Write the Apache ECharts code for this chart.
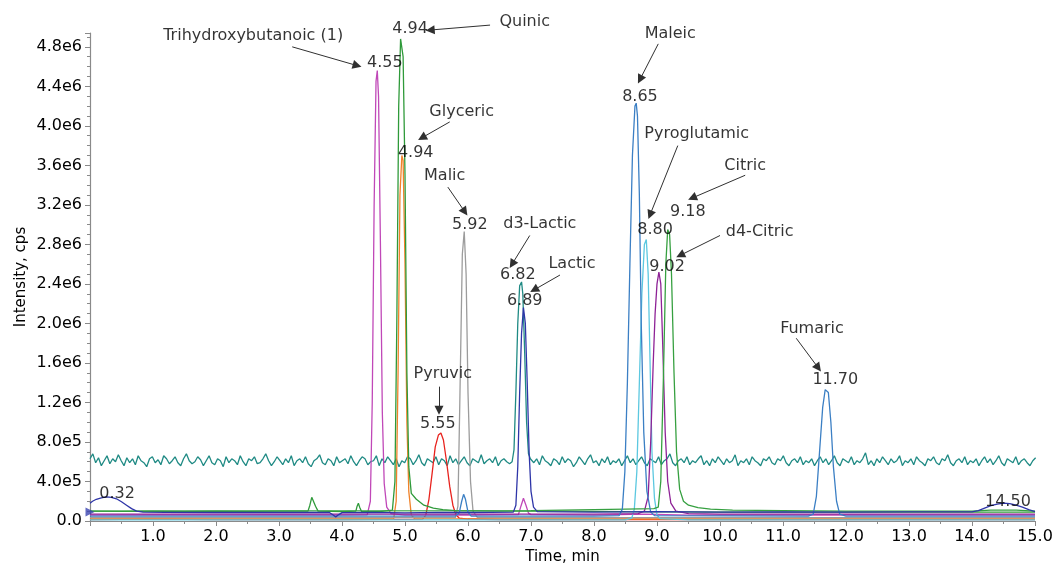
<!DOCTYPE html>
<html>
<head>
<meta charset="utf-8">
<script src="https://cdn.jsdelivr.net/npm/echarts@6/dist/echarts.min.js"></script>
<style>
html,body{margin:0;padding:0;background:#fff;}
#chart{width:1057px;height:563px;}
</style>
</head>
<body>
<div id="chart"></div>
<script>
// ---------------- DATA ----------------
// x: retention time (min), y: intensity (cps)
var xTicks = [1,2,3,4,5,6,7,8,9,10,11,12,13,14,15];
var yTicks = [0,4e5,8e5,1.2e6,1.6e6,2.0e6,2.4e6,2.8e6,3.2e6,3.6e6,4.0e6,4.4e6,4.8e6];

// d3-Lactic (teal) noisy trace: sampled every 0.045 min, values in units of 1e4 cps
var tealStep = 0.045;
var tealNoiseA = [63,68,59,64,56,61,66,58,63,60,67,61,56,64,59,63,57,66,61,59,55,63,65,59,62,57,66,63,58,61,65,59,56,63,68,61,58,60,65,62,56,61,66,59,57,63,61,55,65,59,63,61,57,66,60,56,63,61,65,58,59,63,68,61,56,60,65,61,57,63,59,66,56,61,63,59,65,58,55,61,63,67,59,57,63,61,56,65,59,61,63,58,66,60,56,61,65,63,57,60,61,66,56,63,59,65,61,57,63,55,61,59,65,63,57,61,67,59,56,63,61,59,65,57,63,61,56,66,59,63,57,61,65,59,56,63,61,59,67,58,61,63,59,65,56,61,63,60,58];
var tealPeak = [[6.70,6.0e5],[6.73,7.2e5],[6.76,1.3e6],[6.79,2.0e6],[6.82,2.38e6],[6.85,2.42e6],[6.87,2.3e6],[6.90,1.7e6],[6.93,1.0e6],[6.96,6.8e5],[6.99,6.3e5]];
var tealStartB = 7.0;
var tealNoiseB = [65,59,63,57,66,61,59,56,63,61,57,65,59,63,61,55,59,65,61,57,63,67,59,61,56,63,59,65,57,61,59,63,56,61,66,59,63,57,61,65,59,56,63,61,59,65,57,61,63,68,59,56,61,63,59,65,57,61,59,63,66,57,61,56,63,59,65,61,57,63,59,61,67,56,61,59,63,57,65,61,59,56,63,61,65,59,57,63,61,66,59,56,61,63,59,65,57,61,59,63,56,61,65,59,63,57,61,66,59,56,63,61,59,65,57,61,59,63,69,57,61,56,63,59,65,61,57,63,59,61,66,56,61,59,63,57,65,61,59,56,63,61,65,59,57,63,61,67,59,56,61,63,59,65,57,61,59,63,56,61,65,59,63,57,61,66,59,56,63,61,59,65,57,61,63,59,56,61,64];

var trihydroxy = [[0,6e4],[1,6.2e4],[2,6e4],[3,6.1e4],[4,6e4],[4.40,6.3e4],[4.45,2.0e5],[4.48,1.2e6],[4.51,3.2e6],[4.54,4.45e6],[4.56,4.56e6],[4.58,4.3e6],[4.61,2.8e6],[4.64,1.1e6],[4.67,3.8e5],[4.71,1.4e5],[4.78,7.5e4],[5.0,6e4],[6.0,6e4],[6.80,6.5e4],[6.84,1.5e5],[6.88,2.3e5],[6.92,1.6e5],[6.96,8e4],[7.0,6.5e4],[8.0,6e4],[8.8,7e4],[9.5,6e4],[12,6.2e4],[15,6e4]];
var quinic = [[0,1.0e5],[0.5,9.8e4],[1,1.0e5],[1.5,9.6e4],[2,1.0e5],[2.5,9.8e4],[3.0,1.0e5],[3.46,1.0e5],[3.49,1.6e5],[3.52,2.4e5],[3.55,2.35e5],[3.58,1.5e5],[3.62,1.0e5],[4.0,9.5e4],[4.22,1.0e5],[4.24,1.5e5],[4.26,1.8e5],[4.28,1.4e5],[4.31,9.5e4],[4.6,9.5e4],[4.80,1.1e5],[4.84,4.0e5],[4.87,2.0e6],[4.90,4.2e6],[4.93,4.88e6],[4.95,4.9e6],[4.97,4.7e6],[5.00,3.5e6],[5.03,1.5e6],[5.06,5.5e5],[5.10,2.8e5],[5.18,2.2e5],[5.30,1.6e5],[5.45,1.3e5],[5.60,1.15e5],[5.80,1.05e5],[6.5,1.0e5],[7.5,1.0e5],[8.5,9.5e4],[10,9.0e4],[12,9.0e4],[15,9.0e4]];
var glyceric = [[0,2e4],[2,2e4],[4,2e4],[4.82,2e4],[4.86,2.0e5],[4.89,1.5e6],[4.92,3.3e6],[4.95,3.7e6],[4.97,3.65e6],[5.00,2.6e6],[5.03,1.0e6],[5.06,3.0e5],[5.10,6e4],[5.15,2.5e4],[8,2e4],[12,2e4],[15,2e4]];
var malic = [[0,3.5e4],[3,3.5e4],[5.80,3.5e4],[5.84,1.5e5],[5.87,1.2e6],[5.91,2.7e6],[5.94,2.93e6],[5.97,2.5e6],[6.00,1.3e6],[6.04,4.0e5],[6.08,1.0e5],[6.15,3.5e4],[10,3.5e4],[15,3.5e4]];
var pyruvic = [[0,1.5e4],[1,1.8e4],[2,1.5e4],[3,1.6e4],[4,1.5e4],[5.28,1.8e4],[5.33,6e4],[5.38,2.2e5],[5.43,4.8e5],[5.48,7.5e5],[5.53,8.7e5],[5.57,8.9e5],[5.61,8.2e5],[5.66,6.0e5],[5.71,3.5e5],[5.76,1.6e5],[5.81,6e4],[5.86,3e4],[6.0,2e4],[6.5,1.5e4],[10,1.6e4],[15,1.5e4]];
var maleicFumaric = [[0,5e4],[2,5e4],[4,5e4],[5.80,5e4],[5.86,8e4],[5.90,2.0e5],[5.93,2.7e5],[5.96,2.2e5],[6.00,9e4],[6.05,5e4],[8.0,5e4],[8.40,5.5e4],[8.45,1.2e5],[8.49,5.0e5],[8.53,1.4e6],[8.57,2.6e6],[8.61,3.7e6],[8.65,4.2e6],[8.67,4.23e6],[8.69,4.1e6],[8.72,3.3e6],[8.75,2.0e6],[8.79,9.0e5],[8.84,3.0e5],[8.90,9e4],[8.96,5.5e4],[11.40,5e4],[11.48,7e4],[11.53,2.5e5],[11.58,7.0e5],[11.63,1.15e6],[11.67,1.33e6],[11.70,1.35e6],[11.72,1.3e6],[11.76,1.0e6],[11.80,5.5e5],[11.85,2.0e5],[11.90,7e4],[12.0,5e4],[15,5e4]];
var pyroglutamic = [[0,1.2e4],[5,1.2e4],[8.50,1.2e4],[8.60,3e4],[8.64,1.2e5],[8.68,5.0e5],[8.72,1.4e6],[8.76,2.3e6],[8.80,2.8e6],[8.83,2.85e6],[8.86,2.5e6],[8.89,1.6e6],[8.92,7.0e5],[8.96,2.3e5],[9.00,6e4],[9.05,2.5e4],[9.5,1.2e4],[15,1.2e4]];
var d4Citric = [[0,7e4],[4,7e4],[6,7e4],[8.0,7e4],[8.70,7.5e4],[8.80,1.0e5],[8.86,2.5e5],[8.90,8.0e5],[8.94,1.6e6],[8.97,2.1e6],[9.00,2.4e6],[9.03,2.52e6],[9.06,2.4e6],[9.09,1.8e6],[9.13,9.0e5],[9.17,4.0e5],[9.22,1.8e5],[9.30,1.0e5],[9.50,7.5e4],[10,7e4],[15,7e4]];
var citric = [[0,1.0e5],[7.0,1.05e5],[7.5,1.1e5],[8.0,1.15e5],[8.5,1.2e5],[8.95,1.25e5],[9.02,1.4e5],[9.06,4.0e5],[9.10,1.4e6],[9.14,2.6e6],[9.17,2.95e6],[9.20,2.9e6],[9.23,2.5e6],[9.27,1.5e6],[9.31,7.0e5],[9.36,3.2e5],[9.42,2.0e5],[9.50,1.6e5],[9.65,1.35e5],[9.85,1.2e5],[10.2,1.1e5],[11,1.05e5],[12,1.0e5],[13,1.0e5],[14,1.0e5],[14.3,1.1e5],[14.7,1.1e5],[15,1.0e5]];
var lactic = [[0,1.8e5],[0.04,2.0e5],[0.10,2.2e5],[0.18,2.35e5],[0.26,2.45e5],[0.34,2.4e5],[0.42,2.25e5],[0.50,1.95e5],[0.58,1.6e5],[0.66,1.25e5],[0.74,1.0e5],[0.84,9.0e4],[1.2,8.8e4],[2.0,8.6e4],[3.0,8.8e4],[3.80,8.6e4],[3.86,6.0e4],[3.90,4.2e4],[3.95,6.5e4],[4.0,8.5e4],[4.5,8.8e4],[5.0,8.2e4],[5.5,8.8e4],[6.0,8.6e4],[6.72,9.0e4],[6.76,1.6e5],[6.79,5.5e5],[6.82,1.3e6],[6.85,1.9e6],[6.88,2.16e6],[6.91,2.0e6],[6.94,1.4e6],[6.97,7.0e5],[7.00,3.0e5],[7.04,1.4e5],[7.10,9.5e4],[8.0,9.0e4],[9.0,9.5e4],[10,9.0e4],[11,9.2e4],[12,9.0e4],[13,9.2e4],[14.0,9.2e4],[14.1,1.05e5],[14.2,1.3e5],[14.3,1.55e5],[14.4,1.7e5],[14.5,1.8e5],[14.6,1.75e5],[14.7,1.6e5],[14.8,1.4e5],[14.9,1.15e5],[15,9.5e4]];
var startMarker = [[0,9e4]];

// ---------------- ANNOTATIONS (data coordinates) ----------------
var peakLabels = ['4.55','4.94','4.94','5.92','6.82','6.89','5.55','8.65','8.80','9.18','9.02','11.70','0.32','14.50'];
var peakLabelX = [4.68,5.08,5.17,6.03,6.79,6.90,5.52,8.73,8.97,9.49,9.16,11.83,0.43,14.57];
var peakLabelY = [4.64e6,4.98e6,3.73e6,3.0e6,2.49e6,2.23e6,0.98e6,4.29e6,2.95e6,3.13e6,2.57e6,1.43e6,2.73e5,1.92e5];

var compoundNames = ['Trihydroxybutanoic (1)','Quinic','Glyceric','Malic','d3-Lactic','Lactic','Pyruvic','Maleic','Pyroglutamic','Citric','d4-Citric','Fumaric'];
var nameX = [2.59,6.90,5.90,5.63,7.14,7.65,5.60,9.21,9.63,10.40,10.63,11.46];
var nameY = [4.91e6,5.05e6,4.14e6,3.49e6,3.01e6,2.60e6,1.49e6,4.93e6,3.92e6,3.60e6,2.93e6,1.95e6];
var arrowFrom = [[3.21,4.80e6],[6.35,5.02e6],[5.71,4.04e6],[5.68,3.38e6],[6.98,2.89e6],[7.46,2.49e6],[5.54,1.36e6],[9.02,4.83e6],[9.33,3.80e6],[10.40,3.50e6],[10.0,2.89e6],[11.21,1.85e6]];
var arrowTo   = [[4.24,4.61e6],[5.40,4.97e6],[5.27,3.88e6],[5.95,3.13e6],[6.70,2.60e6],[7.05,2.34e6],[5.54,1.12e6],[8.73,4.47e6],[8.89,3.10e6],[9.56,3.27e6],[9.37,2.69e6],[11.56,1.55e6]];

// ---------------- BUILD ----------------
var teal = [];
tealNoiseA.forEach(function(v,i){ teal.push([+(i*tealStep).toFixed(3), v*1e4]); });
tealPeak.forEach(function(p){ teal.push(p); });
tealNoiseB.forEach(function(v,i){ teal.push([+(tealStartB + i*tealStep).toFixed(3), v*1e4]); });

var FONT = 'DejaVu Sans';
var TXT = '#000000';

function traceSeries(name, data, color){
  return {name:name, type:'line', data:data, showSymbol:false, symbol:'none',
    lineStyle:{color:color, width:1.3}, itemStyle:{color:color}, animation:false, z:2};
}

var chart = echarts.init(document.getElementById('chart'), null, {renderer:'canvas'});
var option = {
  backgroundColor:'#ffffff',
  animation:false,
  grid:{left:90, right:22, top:33, bottom:42, containLabel:false, outerBoundsMode:'none'},
  xAxis:{
    type:'value', min:0, max:15, interval:1,
    name:'Time, min', nameLocation:'middle', nameGap:29, nameMoveOverlap:false,
    nameTextStyle:{fontFamily:FONT, fontSize:15, color:TXT},
    axisLine:{show:true, onZero:false, lineStyle:{color:'#8a8a8a', width:1.2}},
    axisTick:{show:true, length:5, lineStyle:{color:'#8a8a8a'}},
    minorTick:{show:true, splitNumber:2, length:3, lineStyle:{color:'#8a8a8a'}},
    splitLine:{show:false},
    axisLabel:{fontFamily:FONT, fontSize:16, color:TXT, margin:8,
      formatter:function(v){ return xTicks.indexOf(v) >= 0 ? v.toFixed(1) : ''; }}
  },
  yAxis:{
    type:'value', min:0, max:4.94e6, interval:4e5,
    name:'Intensity, cps', nameLocation:'middle', nameGap:61, nameMoveOverlap:false,
    nameTextStyle:{fontFamily:FONT, fontSize:15, color:TXT},
    axisLine:{show:true, lineStyle:{color:'#8a8a8a', width:1.2}},
    axisTick:{show:true, length:5, lineStyle:{color:'#8a8a8a'}},
    minorTick:{show:true, splitNumber:4, length:3, lineStyle:{color:'#8a8a8a'}},
    splitLine:{show:false},
    axisLabel:{fontFamily:FONT, fontSize:16, color:TXT, margin:8, showMaxLabel:false,
      formatter:function(v){
        var ok = yTicks.some(function(t){ return Math.abs(t-v) < 1; });
        if(!ok) return '';
        if(v === 0) return '0.0';
        var e = Math.floor(Math.log10(v) + 1e-9);
        var m = v/Math.pow(10,e);
        return m.toFixed(1) + 'e' + e;
      }}
  },
  series:[
    traceSeries('d3-Lactic', teal, '#1f8a84'),
    traceSeries('Pyruvic', pyruvic, '#e8231e'),
    traceSeries('Glyceric', glyceric, '#f0822a'),
    traceSeries('Malic', malic, '#9c9c9c'),
    traceSeries('Trihydroxybutanoic', trihydroxy, '#c048b8'),
    traceSeries('Quinic', quinic, '#2f9a3a'),
    traceSeries('Pyroglutamic', pyroglutamic, '#5cc8e0'),
    traceSeries('d4-Citric', d4Citric, '#8e2296'),
    traceSeries('Citric', citric, '#36a040'),
    traceSeries('Maleic/Fumaric', maleicFumaric, '#3b7fc4'),
    traceSeries('Lactic', lactic, '#2e35a8'),
    {type:'scatter', data:startMarker, symbol:'triangle', symbolRotate:-90, symbolSize:9,
      itemStyle:{color:'#3a44b0'}, clip:false, z:5, silent:true},
    {type:'lines', coordinateSystem:'cartesian2d', clip:false, silent:true, z:6,
      symbol:['none','triangle'], symbolSize:[0,9],
      lineStyle:{color:'#303030', width:1, opacity:1},
      data: arrowFrom.map(function(p,i){ return {coords:[p, arrowTo[i]]}; })},
    {type:'scatter', clip:false, silent:true, z:7, symbolSize:0,
      data: peakLabels.map(function(t,i){ return {value:[peakLabelX[i], peakLabelY[i]], name:t}; }),
      label:{show:true, position:'inside', formatter:'{b}', fontFamily:FONT, fontSize:16, color:TXT}},
    {type:'scatter', clip:false, silent:true, z:7, symbolSize:0,
      data: compoundNames.map(function(t,i){ return {value:[nameX[i], nameY[i]], name:t}; }),
      label:{show:true, position:'inside', formatter:'{b}', fontFamily:FONT, fontSize:16, color:TXT}}
  ]
};
chart.setOption(option);
</script>
</body>
</html>
